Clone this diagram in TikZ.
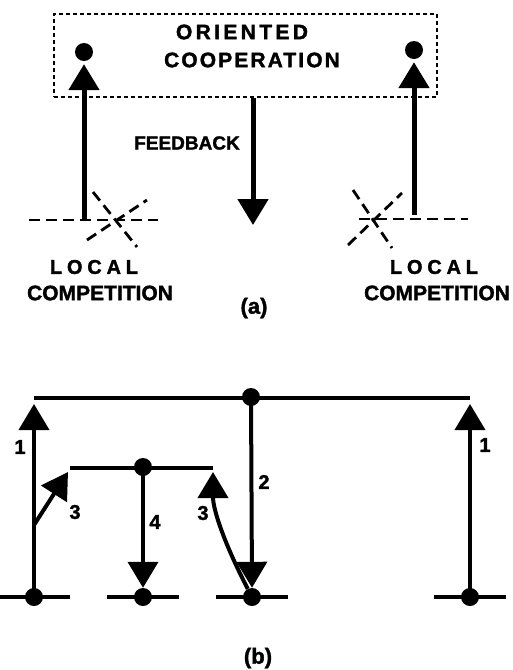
\documentclass[tikz,border=0pt]{standalone}
\usepackage{fontspec}
\setmainfont{Liberation Sans}[BoldFeatures={FakeBold=1.6}]
\usetikzlibrary{arrows.meta}
\begin{document}
\begin{tikzpicture}[x=1pt,y=-1pt,
  txt/.style={inner sep=0pt, font=\bfseries\fontsize{#1}{#1}\selectfont},
  dot/.style={circle, fill=black, inner sep=0pt, minimum size=18pt},
  lineA/.style={line width=5pt},
  lineB/.style={line width=4pt},
  arr/.style={-{Triangle[length=26pt,width=30pt]}},
  dashA/.style={line width=2.8pt, dash pattern=on 11pt off 6pt},
  box/.style={draw, line width=1.5pt, dash pattern=on 4pt off 3pt, inner sep=0pt,
              minimum width=383pt, minimum height=83pt}]
\useasboundingbox (0,0) rectangle (513,670);

% ---------------- (a) ----------------
\node[box] (coop) at (245.5,55.5) {};
\node[txt=21] (ori) at (242,32) {\addfontfeatures{LetterSpace=16}ORIENTED};
\node[txt=21] (coo) at (252,60) {\addfontfeatures{LetterSpace=10}COOPERATION};

\node[dot] (adL) at (84,52) {};
\node[dot] (adR) at (414,50) {};

% left local competition
\coordinate (lcL) at (115,220);
\coordinate (baseL) at (84,220);
\draw[dashA] ([xshift=-86pt]lcL) -- ([xshift=43pt]lcL);
\draw[dashA] ([xshift=-22pt,yshift=28pt]lcL) -- ([xshift=22pt,yshift=-27pt]lcL);
\draw[dashA] ([xshift=-28pt,yshift=-20pt]lcL) -- ([xshift=32pt,yshift=20pt]lcL);
\draw[lineA,arr,shorten >=3pt] (baseL) -- (adL);

% right local competition
\coordinate (lcR) at (375,219);
\coordinate (baseR) at (414,215);
\draw[dashA] ([xshift=-16pt]lcR) -- ([xshift=93pt]lcR);
\draw[dashA] ([xshift=-22pt,yshift=29pt]lcR) -- ([xshift=17pt,yshift=-29pt]lcR);
\draw[dashA] ([xshift=-27pt,yshift=-26pt]lcR) -- ([xshift=27pt,yshift=26pt]lcR);
\draw[lineA,arr,shorten >=3pt] (baseR) -- (adR);

% feedback
\coordinate (fbE) at (253,225);
\draw[lineA,arr] ([xshift=7.5pt]coop.south) -- (fbE);
\node[txt=19] (fb) at (187,143) {FEEDBACK};

\node[txt=20] (locL) at (94,267) {\addfontfeatures{LetterSpace=24}LOCAL};
\node[txt=21] (cmpL) at (100,293) {COMPETITION};
\node[txt=20] (locR) at (434,267) {\addfontfeatures{LetterSpace=24}LOCAL};
\node[txt=21] (cmpR) at (437,293) {COMPETITION};
\node[txt=22] (capa) at (254,308) {(a)};

% ---------------- (b) ----------------
\coordinate (tL) at (34,398);
\coordinate (tR) at (470,398);
\node[dot] (T) at (251,397) {};
\draw[lineB] (tL) -- (tR);

\coordinate (mL) at (70,468);
\coordinate (mR) at (213,468);
\node[dot] (M) at (143,467) {};
\draw[lineB] (mL) -- (mR);

\node[dot] (B1) at (34,597) {};
\node[dot] (B2) at (143,597) {};
\node[dot] (B3) at (252,597) {};
\node[dot] (B4) at (470,597) {};
\foreach \b in {B1,B2,B3,B4}
  \draw[lineB] ([xshift=-36pt]\b.center) -- ([xshift=36pt]\b.center);

\draw[lineB,arr,shorten >=6pt] (B1.center) -- (tL);
\draw[lineB,arr,shorten >=6pt] (B4.center) -- (tR);
\draw[lineB,arr] (T.center) -- (B3.north);
\draw[lineB,arr] (M.center) -- (B2.north);

\coordinate (j3) at (34,525);
\draw[lineB,arr] (j3) -- ([xshift=-2pt,yshift=-4pt]mL);
\draw[lineB,arr,shorten >=4pt] (B3) .. controls (225,545) and (213,510) .. (mR);

\node[txt=20] (n1L) at (20,447) {1};
\node[txt=20] (n1R) at (485,445) {1};
\node[txt=20] (n2) at (264,482) {2};
\node[txt=20] (n3L) at (75,512) {3};
\node[txt=20] (n4) at (155,522) {4};
\node[txt=20] (n3R) at (203,513) {3};
\node[txt=22] (capb) at (258,658) {(b)};
\end{tikzpicture}
\end{document}
